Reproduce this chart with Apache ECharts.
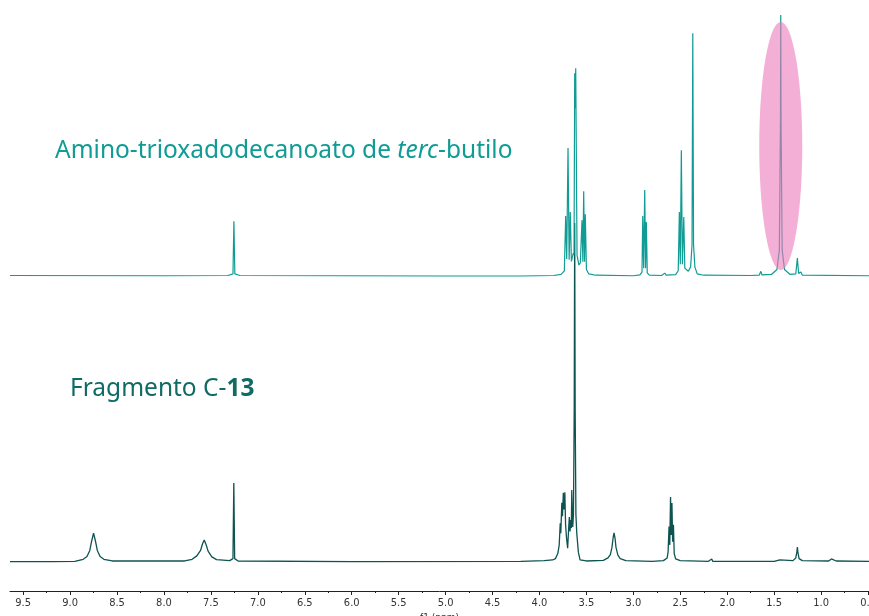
<!DOCTYPE html>
<html>
<head>
<meta charset="utf-8">
<script src="https://cdn.jsdelivr.net/npm/echarts@6/dist/echarts.min.js"></script>
<style>
  html, body { margin: 0; padding: 0; background: #ffffff; }
  #chart { width: 869px; height: 616px; }
</style>
</head>
<body>
<div id="chart"></div>
<script>
// 1H NMR traces: [chemical shift (ppm), relative intensity]
const esterSpectrum = [
  [9.64, 0.2], [8.0, 0.1], [7.32, 0.2], [7.265, 0.8], [7.255, 21.0], [7.245, 0.8], [7.19, 0.2],
  [5.0, 0.0], [4.2, 0.0], [3.85, 0.2], [3.77, 0.6], [3.735, 2.0],
  [3.721, 23.0], [3.710, 6.5], [3.696, 49.0], [3.684, 6.2], [3.672, 24.5], [3.660, 5.6],
  [3.640, 8.8], [3.632, 8.0], [3.625, 77.7], [3.620, 64.3], [3.614, 79.6], [3.600, 8.0],
  [3.580, 4.2], [3.565, 5.0], [3.547, 21.4], [3.538, 5.5], [3.529, 32.5], [3.520, 5.5],
  [3.512, 23.7], [3.500, 2.5], [3.475, 0.8], [3.40, 0.3],
  [3.0, 0.1], [2.93, 0.4], [2.908, 1.5], [2.900, 23.0], [2.890, 3.0], [2.879, 32.9],
  [2.870, 3.0], [2.862, 20.7], [2.852, 1.2], [2.83, 0.3],
  [2.70, 0.2], [2.665, 1.1], [2.65, 0.3],
  [2.55, 0.5], [2.522, 2.0], [2.510, 24.5], [2.500, 4.5], [2.489, 48.2], [2.478, 4.5],
  [2.463, 22.6], [2.452, 3.0], [2.44, 3.2], [2.415, 1.8],
  [2.39, 3.5], [2.375, 12.0], [2.367, 93.0], [2.359, 12.0], [2.345, 3.5], [2.32, 0.8], [2.25, 0.3],
  [1.75, 0.2], [1.66, 0.3], [1.642, 1.8], [1.63, 0.4],
  [1.53, 0.6], [1.47, 2.5], [1.445, 10.0], [1.433, 60.0], [1.430, 100.0], [1.427, 60.0],
  [1.415, 10.0], [1.39, 2.5], [1.33, 0.6],
  [1.27, 0.8], [1.253, 6.9], [1.240, 1.0], [1.225, 1.0], [1.216, 1.5], [1.20, 0.3],
  [0.49, 0.1]
];

const fragmentSpectrum = [
  [9.64, 0.1], [9.2, 0.1], [8.95, 0.2], [8.86, 0.8], [8.82, 1.6], [8.79, 3.4], [8.77, 6.2],
  [8.75, 8.5], [8.73, 6.2], [8.71, 3.4], [8.68, 1.6], [8.64, 0.8], [8.55, 0.3],
  [7.78, 0.3], [7.70, 0.8], [7.65, 1.8], [7.61, 3.4], [7.59, 5.3], [7.571, 6.5],
  [7.55, 5.0], [7.53, 3.2], [7.49, 1.5], [7.44, 0.7],
  [7.30, 0.4], [7.265, 1.0], [7.256, 23.3], [7.247, 1.0], [7.21, 0.3],
  [6.0, 0.1], [4.2, 0.2], [3.95, 0.4], [3.86, 0.6], [3.83, 1.0], [3.805, 2.5],
  [3.790, 5.0], [3.779, 11.4], [3.773, 8.5], [3.762, 17.5], [3.755, 13.5], [3.746, 20.4],
  [3.738, 15.5], [3.730, 20.6], [3.722, 11.0], [3.712, 7.1], [3.700, 4.1],
  [3.690, 9.5], [3.682, 13.3], [3.675, 9.0], [3.667, 12.4], [3.661, 10.0], [3.656, 21.2], [3.646, 10.3],
  [3.638, 14.0], [3.630, 45.0], [3.625, 100.0], [3.620, 45.0], [3.612, 14.0],
  [3.603, 8.6], [3.586, 2.9], [3.568, 0.6], [3.50, 0.3],
  [3.32, 0.5], [3.27, 1.2], [3.245, 2.2], [3.228, 4.3], [3.215, 7.3], [3.206, 8.6],
  [3.195, 7.0], [3.185, 4.3], [3.165, 2.0], [3.14, 1.0], [3.08, 0.4],
  [2.80, 0.2], [2.68, 0.4], [2.64, 1.2], [2.630, 3.0], [2.620, 10.5], [2.612, 5.0],
  [2.604, 19.2], [2.597, 8.0], [2.589, 17.4], [2.582, 6.0], [2.573, 11.0], [2.565, 2.5],
  [2.55, 0.9], [2.50, 0.4],
  [2.20, 0.2], [2.165, 0.9], [2.155, 0.2], [2.09, 0.2], [2.078, 0.7], [2.068, 0.2],
  [1.50, 0.2], [1.44, 0.6], [1.42, 0.2],
  [1.30, 0.4], [1.27, 1.2], [1.258, 3.0], [1.253, 4.4], [1.248, 3.0], [1.235, 1.0], [1.20, 0.4],
  [0.92, 0.3], [0.89, 0.9], [0.88, 1.1], [0.87, 0.9], [0.84, 0.3], [0.49, 0.2]
];

// shift axis
const shiftRange = [0.49, 9.64];
const majorTicks = [9.5, 9.0, 8.5, 8.0, 7.5, 7.0, 6.5, 6.0, 5.5, 5.0, 4.5, 4.0, 3.5, 3.0, 2.5, 2.0, 1.5, 1.0, 0.5];
const minorTicks = [9.25, 8.75, 8.25, 7.75, 7.25, 6.75, 6.25, 5.75, 5.25, 4.75, 4.25, 3.75, 3.25, 2.75, 2.25, 1.75, 1.25, 0.75];
const axisTitle = 'f1 (ppm)';

// trace captions
const esterCaption = ['Amino-trioxadodecanoato de ', 'terc', '-butilo'];
const fragmentCaption = ['Fragmento C-', '13'];

// highlighted tert-butyl singlet: centre (ppm, intensity) and half-axes
const highlight = { ppm: 1.43, level: 49.8, halfPpm: 0.229, halfLevel: 47.5 };

const esterColor = '#0f9c94';
const fragmentColor = '#0d5450';
const captionFont = '"Noto Sans", "Open Sans", sans-serif';

const chart = echarts.init(document.getElementById('chart'));

const baseX = {
  type: 'value',
  min: shiftRange[0],
  max: shiftRange[1],
  inverse: true,
  splitLine: { show: false }
};

chart.setOption({
  animation: false,
  backgroundColor: '#ffffff',
  title: [
    {
      left: 55, top: 139, padding: 0,
      text: '{n|' + esterCaption[0] + '}{i|' + esterCaption[1] + '}{n|' + esterCaption[2] + '}',
      textStyle: {
        fontWeight: 'normal',
        rich: {
          n: { fontFamily: captionFont, fontSize: 24.5, color: esterColor, fontWeight: 'normal' },
          i: { fontFamily: captionFont, fontSize: 24.5, color: esterColor, fontStyle: 'italic', fontWeight: 'normal' }
        }
      }
    },
    {
      left: 70, top: 377, padding: 0,
      text: '{n|' + fragmentCaption[0] + '}{b|' + fragmentCaption[1] + '}',
      textStyle: {
        fontWeight: 'normal',
        rich: {
          n: { fontFamily: captionFont, fontSize: 24.5, color: '#0f6b64', fontWeight: 'normal' },
          b: { fontFamily: captionFont, fontSize: 24.5, color: '#0f6b64', fontWeight: 'bold' }
        }
      }
    }
  ],
  grid: [
    { left: 10, right: 0, top: 15, bottom: 340, outerBoundsMode: 'none', containLabel: false },
    { left: 10, right: 0, top: 223, bottom: 54, outerBoundsMode: 'none', containLabel: false }
  ],
  xAxis: [
    Object.assign({}, baseX, { gridIndex: 0, show: false }),
    Object.assign({}, baseX, {
      gridIndex: 1,
      position: 'bottom',
      offset: 29,
      name: axisTitle,
      nameLocation: 'middle',
      nameGap: 20,
      nameTextStyle: { fontFamily: 'DejaVu Sans Condensed, DejaVu Sans', fontSize: 10, color: '#333' },
      axisLine: { show: true, onZero: false, lineStyle: { color: '#222', width: 1 } },
      axisTick: { show: true, customValues: majorTicks, length: 4, lineStyle: { color: '#222' } },
      axisLabel: {
        customValues: majorTicks,
        margin: 7,
        hideOverlap: false,
        fontFamily: 'DejaVu Sans Condensed, DejaVu Sans',
        fontSize: 11,
        color: '#333',
        formatter: v => v.toFixed(1)
      }
    }),
    Object.assign({}, baseX, {
      gridIndex: 1,
      position: 'bottom',
      offset: 29,
      axisLine: { show: false, onZero: false },
      axisTick: { show: true, customValues: minorTicks, length: 2, lineStyle: { color: '#222' } },
      axisLabel: { show: false }
    })
  ],
  yAxis: [
    { type: 'value', gridIndex: 0, min: 0, max: 100, show: false },
    { type: 'value', gridIndex: 1, min: 0, max: 100, show: false }
  ],
  series: [
    {
      name: 'ester',
      type: 'line',
      xAxisIndex: 0, yAxisIndex: 0,
      data: esterSpectrum,
      showSymbol: false,
      clip: false,
      lineStyle: { color: esterColor, width: 1.2 },
      z: 3
    },
    {
      name: 'fragment',
      type: 'line',
      xAxisIndex: 1, yAxisIndex: 1,
      data: fragmentSpectrum,
      showSymbol: false,
      clip: false,
      lineStyle: { color: fragmentColor, width: 1.3 },
      z: 2
    }
  ]
});

// ellipse marking the tert-butyl singlet, placed in data coordinates
const c = chart.convertToPixel({ gridIndex: 0 }, [highlight.ppm, highlight.level]);
const e = chart.convertToPixel({ gridIndex: 0 }, [highlight.ppm - highlight.halfPpm, highlight.level + highlight.halfLevel]);
chart.setOption({
  graphic: [{
    type: 'ellipse',
    z: 100,
    shape: { cx: c[0], cy: c[1], rx: Math.abs(e[0] - c[0]), ry: Math.abs(c[1] - e[1]) },
    style: { fill: 'rgba(236, 122, 186, 0.6)' }
  }]
});
</script>
</body>
</html>
